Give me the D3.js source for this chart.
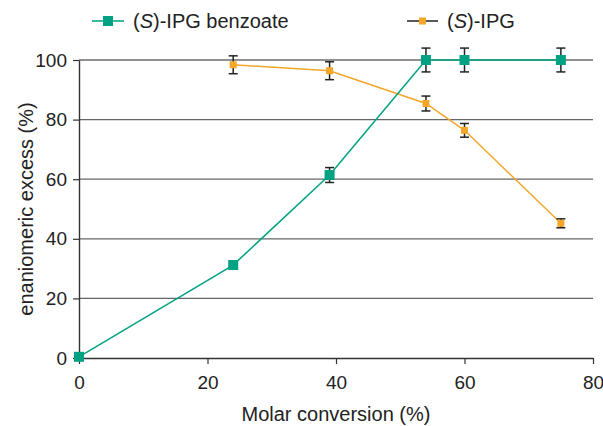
<!DOCTYPE html>
<html>
<head>
<meta charset="utf-8">
<script src="https://cdn.jsdelivr.net/npm/d3@7"></script>
<style>
body { margin: 0; background: white; }
text { font-family: "Liberation Sans", Arial, sans-serif; }
</style>
</head>
<body>
<script>
// benzoate series
var benzoateX = [0, 24, 39, 54, 60, 75];
var benzoateY = [0.4, 31.2, 61.4, 100, 100, 100];
var benzoateErr = [0, 0, 2.5, 4, 4, 4];

// IPG series
var ipgX = [24, 39, 54, 60, 75];
var ipgY = [98.4, 96.4, 85.4, 76.4, 45.2];
var ipgErr = [3, 3, 2.5, 2.3, 1.5];

var xTicks = [0, 20, 40, 60, 80];
var yTicks = [0, 20, 40, 60, 80, 100];

var teal = "#00a283";
var orange = "#f4a629";

var svg = d3.select("body").append("svg")
    .attr("width", 603)
    .attr("height", 426)
    .style("background", "white");

var x_scale = d3.scaleLinear().domain([0, 80]).range([79, 593]);
var y_scale = d3.scaleLinear().domain([0, 100]).range([358, 60]);

// grid lines
svg.selectAll(".grid").data(yTicks.slice(1)).enter().append("line")
    .attr("x1", x_scale(0))
    .attr("x2", x_scale(80))
    .attr("y1", d => y_scale(d))
    .attr("y2", d => y_scale(d))
    .attr("stroke", d => d == 100 ? "#222" : "#666")
    .attr("stroke-width", 1.2);

var xAxis = d3.axisBottom(x_scale).tickValues(xTicks).tickSize(6).tickSizeOuter(0).tickPadding(12);
var yAxis = d3.axisLeft(y_scale).tickValues(yTicks).tickSize(6).tickSizeOuter(0).tickPadding(6);

var gx = svg.append("g")
    .attr("transform", "translate(0," + y_scale(0) + ")")
    .call(xAxis);
var gy = svg.append("g")
    .attr("transform", "translate(" + x_scale(0) + ",0)")
    .call(yAxis);

[gx, gy].forEach(function(g){
    g.select(".domain").attr("stroke", "#333").attr("stroke-width", 1.4);
    g.selectAll(".tick line").attr("stroke", "#333").attr("stroke-width", 1.2);
    g.selectAll(".tick text")
        .attr("fill", "#222")
        .style("font-size", "19px")
        .style("font-family", "Liberation Sans, Arial, sans-serif");
});

// axis titles
svg.append("text")
    .attr("x", 336)
    .attr("y", 421)
    .attr("text-anchor", "middle")
    .attr("fill", "#222")
    .style("font-size", "20px")
    .text("Molar conversion (%)");

svg.append("text")
    .attr("transform", "translate(33,209) rotate(-90)")
    .attr("text-anchor", "middle")
    .attr("fill", "#222")
    .style("font-size", "20px")
    .text("enaniomeric excess (%)");

var benzoate = benzoateX.map((d, i) => ({X: d, Y: benzoateY[i], E: benzoateErr[i]}));
var ipg = ipgX.map((d, i) => ({X: d, Y: ipgY[i], E: ipgErr[i]}));

var line = d3.line().x(d => x_scale(d.X)).y(d => y_scale(d.Y));

svg.append("path").datum(ipg)
    .attr("d", line)
    .attr("fill", "none")
    .attr("stroke", orange)
    .attr("stroke-width", 1.5);

svg.append("path").datum(benzoate)
    .attr("d", line)
    .attr("fill", "none")
    .attr("stroke", teal)
    .attr("stroke-width", 1.5);

function errorBars(data) {
    var g = svg.append("g").attr("stroke", "#222").attr("stroke-width", 1.5);
    data.filter(d => d.E > 0).forEach(function(d){
        var cx = x_scale(d.X), top = y_scale(d.Y + d.E), bot = y_scale(d.Y - d.E);
        g.append("line").attr("x1", cx).attr("x2", cx).attr("y1", top).attr("y2", bot);
        g.append("line").attr("x1", cx - 4.5).attr("x2", cx + 4.5).attr("y1", top).attr("y2", top);
        g.append("line").attr("x1", cx - 4.5).attr("x2", cx + 4.5).attr("y1", bot).attr("y2", bot);
    });
}
errorBars(ipg);
errorBars(benzoate);

svg.selectAll(".ipgpt").data(ipg).enter().append("rect")
    .attr("x", d => x_scale(d.X) - 3.5)
    .attr("y", d => y_scale(d.Y) - 3.5)
    .attr("width", 7)
    .attr("height", 7)
    .attr("fill", orange);

svg.selectAll(".bzpt").data(benzoate).enter().append("rect")
    .attr("x", d => x_scale(d.X) - 5)
    .attr("y", d => y_scale(d.Y) - 5)
    .attr("width", 10)
    .attr("height", 10)
    .attr("fill", teal);

// legend
var legend = svg.append("g");
legend.append("line").attr("x1", 92).attr("x2", 124).attr("y1", 21).attr("y2", 21)
    .attr("stroke", teal).attr("stroke-width", 1.5);
legend.append("rect").attr("x", 103).attr("y", 16).attr("width", 10).attr("height", 10).attr("fill", teal);
var t1 = legend.append("text").attr("x", 133).attr("y", 28).attr("fill", "#222").style("font-size", "20px");
t1.append("tspan").text("(");
t1.append("tspan").style("font-style", "italic").text("S");
t1.append("tspan").text(")-IPG benzoate");

legend.append("line").attr("x1", 407).attr("x2", 438).attr("y1", 21).attr("y2", 21)
    .attr("stroke", "#222").attr("stroke-width", 1.5);
legend.append("rect").attr("x", 419).attr("y", 17.5).attr("width", 7).attr("height", 7).attr("fill", orange);
var t2 = legend.append("text").attr("x", 447).attr("y", 28).attr("fill", "#222").style("font-size", "20px");
t2.append("tspan").text("(");
t2.append("tspan").style("font-style", "italic").text("S");
t2.append("tspan").text(")-IPG");
</script>
</body>
</html>
